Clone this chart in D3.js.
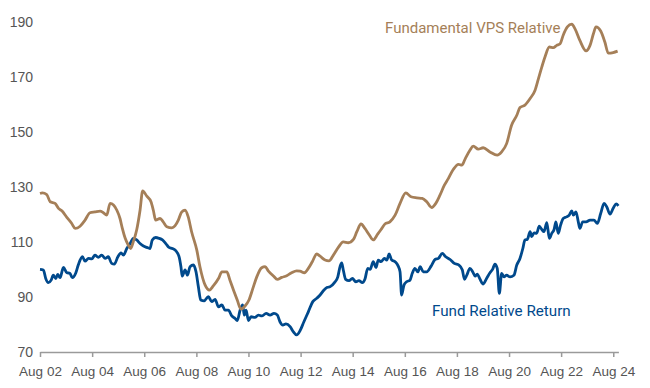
<!DOCTYPE html>
<html>
<head>
<meta charset="utf-8">
<script src="https://cdn.jsdelivr.net/npm/d3@7"></script>
<style>
  body { margin: 0; background: #fff; }
  svg { display: block; font-family: Roboto, "Open Sans", sans-serif; }
  .tick text { fill: #555; }
</style>
</head>
<body>
<svg id="chart" width="650" height="388"></svg>
<script>
// decimal years + values
let vpsYears = [2002.58, 2002.67, 2002.84, 2002.97, 2003.16, 2003.29, 2003.42, 2003.61, 2003.80, 2003.93,
    2004.12, 2004.31, 2004.50, 2004.69, 2004.89, 2005.01, 2005.14, 2005.27, 2005.40, 2005.53,
    2005.65, 2005.74, 2005.85, 2005.97, 2006.06, 2006.16, 2006.29, 2006.42, 2006.52, 2006.68,
    2006.84, 2006.93, 2007.02, 2007.19, 2007.31, 2007.45, 2007.64, 2007.76, 2007.89, 2008.02,
    2008.15, 2008.27, 2008.40, 2008.60, 2008.72, 2008.92, 2009.08, 2009.23, 2009.43, 2009.56,
    2009.75, 2009.87, 2010.03, 2010.15, 2010.29, 2010.45, 2010.60, 2010.75, 2010.90, 2011.09,
    2011.22, 2011.34, 2011.54, 2011.69, 2011.86, 2012.05, 2012.24, 2012.43, 2012.56, 2012.73,
    2012.88, 2013.03, 2013.20, 2013.33, 2013.52, 2013.67, 2013.84, 2014.03, 2014.22, 2014.41,
    2014.61, 2014.74, 2014.90, 2015.05, 2015.22, 2015.37, 2015.54, 2015.70, 2015.82, 2016.01,
    2016.21, 2016.40, 2016.62, 2016.82, 2017.04, 2017.25, 2017.42, 2017.61, 2017.77, 2017.93,
    2018.10, 2018.25, 2018.44, 2018.64, 2018.77, 2018.89, 2019.08, 2019.21, 2019.40, 2019.59,
    2019.85, 2020.13, 2020.30, 2020.49, 2020.68, 2020.88, 2021.00, 2021.19, 2021.39, 2021.58,
    2021.71, 2021.84, 2021.96, 2022.13, 2022.28, 2022.41, 2022.54, 2022.66, 2022.82, 2022.99,
    2023.11, 2023.30, 2023.54, 2023.69, 2023.82, 2023.92, 2024.10, 2024.26, 2024.39, 2024.58,
    2024.75]
let vpsValues = [127.6, 127.8, 127.2, 124.6, 124.0, 122.2, 121.3, 118.9, 116.7, 114.9,
    115.7, 117.9, 120.6, 120.9, 121.2, 120.6, 119.7, 124.0, 123.4, 121.5,
    118.5, 114.9, 111.3, 108.8, 107.6, 110.0, 114.3, 121.5, 128.5, 126.6,
    124.6, 121.5, 117.9, 118.5, 117.3, 115.5, 115.1, 115.8, 117.9, 120.9,
    121.5, 119.1, 113.7, 107.0, 101.0, 94.3, 92.5, 94.0, 96.7, 99.1,
    99.1, 96.1, 91.9, 88.9, 85.6, 86.7, 88.9, 93.1, 97.3, 100.6,
    101.0, 99.5, 97.6, 96.4, 97.1, 97.7, 98.8, 99.5, 99.4, 98.8,
    100.4, 102.8, 105.6, 104.8, 103.4, 103.1, 105.2, 108.0, 110.0, 109.7,
    110.9, 113.7, 116.5, 114.9, 112.5, 110.7, 112.8, 114.9, 116.5, 117.3,
    119.7, 124.0, 127.8, 126.4, 126.0, 125.8, 124.6, 122.5, 124.0, 127.0,
    130.6, 133.0, 136.3, 138.2, 137.9, 140.0, 143.3, 144.8, 143.7, 144.2,
    142.7, 141.5, 142.7, 145.7, 152.4, 156.0, 158.8, 159.7, 162.1, 165.1,
    169.3, 173.6, 177.2, 180.8, 180.6, 181.4, 182.0, 185.1, 188.1, 189.1,
    187.5, 183.2, 179.4, 181.4, 185.6, 188.1, 186.6, 182.6, 178.6, 178.8,
    179.3]

let fundYears = [2002.58, 2002.71, 2002.80, 2002.90, 2003.01, 2003.09, 2003.19, 2003.26, 2003.35, 2003.48,
    2003.61, 2003.73, 2003.82, 2003.95, 2004.05, 2004.21, 2004.31, 2004.44, 2004.57, 2004.69,
    2004.82, 2004.95, 2005.08, 2005.20, 2005.33, 2005.43, 2005.57, 2005.69, 2005.78, 2005.91,
    2006.04, 2006.16, 2006.29, 2006.42, 2006.55, 2006.68, 2006.80, 2006.89, 2007.02, 2007.15,
    2007.28, 2007.41, 2007.53, 2007.66, 2007.79, 2007.92, 2007.99, 2008.04, 2008.15, 2008.24,
    2008.34, 2008.47, 2008.57, 2008.66, 2008.75, 2008.88, 2009.04, 2009.17, 2009.30, 2009.43,
    2009.56, 2009.68, 2009.81, 2009.94, 2010.07, 2010.15, 2010.26, 2010.36, 2010.42, 2010.49,
    2010.58, 2010.68, 2010.83, 2010.96, 2011.09, 2011.26, 2011.41, 2011.56, 2011.69, 2011.79,
    2011.90, 2012.02, 2012.18, 2012.30, 2012.43, 2012.56, 2012.71, 2012.88, 2013.05, 2013.20,
    2013.33, 2013.48, 2013.61, 2013.71, 2013.88, 2014.01, 2014.10, 2014.16, 2014.22, 2014.31,
    2014.44, 2014.57, 2014.70, 2014.82, 2014.95, 2015.05, 2015.16, 2015.25, 2015.37, 2015.48,
    2015.56, 2015.67, 2015.80, 2015.89, 2015.98, 2016.08, 2016.21, 2016.33, 2016.40, 2016.46,
    2016.55, 2016.65, 2016.78, 2016.87, 2016.97, 2017.08, 2017.17, 2017.29, 2017.42, 2017.59,
    2017.74, 2017.87, 2018.02, 2018.15, 2018.32, 2018.48, 2018.66, 2018.79, 2018.87, 2018.96,
    2019.08, 2019.19, 2019.28, 2019.36, 2019.47, 2019.59, 2019.72, 2019.85, 2019.95, 2020.04,
    2020.13, 2020.21, 2020.30, 2020.39, 2020.49, 2020.62, 2020.77, 2020.88, 2021.00, 2021.11,
    2021.19, 2021.28, 2021.39, 2021.45, 2021.54, 2021.64, 2021.74, 2021.84, 2021.92, 2022.03,
    2022.13, 2022.22, 2022.31, 2022.38, 2022.47, 2022.56, 2022.66, 2022.79, 2022.89, 2022.99,
    2023.05, 2023.15, 2023.24, 2023.30, 2023.41, 2023.54, 2023.69, 2023.84, 2023.97, 2024.10,
    2024.23, 2024.33, 2024.46, 2024.58, 2024.69, 2024.78]
let fundValues = [100.0, 99.8, 96.7, 95.2, 96.1, 97.9, 96.7, 98.2, 97.0, 100.7,
    98.8, 98.6, 97.0, 98.6, 101.6, 104.6, 103.0, 104.0, 103.8, 105.2,
    104.4, 105.2, 104.0, 104.6, 102.2, 101.9, 104.6, 106.0, 105.2, 107.6,
    109.4, 111.3, 110.7, 109.4, 108.5, 108.0, 107.6, 110.7, 111.6, 111.3,
    110.7, 109.4, 108.0, 107.6, 106.8, 104.6, 101.0, 97.6, 99.8, 97.9,
    101.0, 101.6, 99.1, 93.7, 88.9, 88.6, 90.1, 88.3, 89.1, 86.4,
    87.1, 85.2, 85.2, 83.1, 82.2, 81.4, 85.2, 87.1, 83.4, 85.2,
    81.4, 82.8, 82.6, 83.4, 83.1, 84.0, 83.4, 84.0, 83.4, 81.0,
    79.8, 80.2, 79.2, 77.4, 76.2, 77.7, 81.0, 84.6, 88.3, 89.5,
    90.7, 92.5, 93.5, 93.7, 95.2, 97.3, 101.2, 102.4, 99.8, 96.4,
    95.9, 96.7, 95.5, 95.9, 95.2, 96.4, 100.4, 100.0, 102.8, 100.7,
    103.4, 102.8, 104.0, 103.4, 105.6, 103.4, 102.8, 101.2, 99.1, 90.7,
    94.3, 95.5, 96.1, 98.6, 100.4, 99.1, 101.0, 99.1, 99.1, 101.2,
    103.6, 104.0, 105.8, 104.6, 103.6, 102.2, 101.6, 99.8, 96.4, 97.9,
    100.4, 99.1, 97.6, 98.3, 96.4, 94.7, 96.7, 98.8, 100.0, 101.9,
    100.4, 91.3, 98.6, 97.3, 97.9, 97.3, 97.9, 101.6, 104.0, 107.6,
    110.7, 110.9, 113.7, 111.9, 113.3, 113.1, 115.7, 114.5, 113.7, 117.0,
    111.3, 113.1, 114.5, 117.3, 113.1, 116.1, 118.5, 119.1, 119.7, 121.3,
    119.7, 120.9, 117.3, 114.9, 117.3, 117.3, 117.9, 117.9, 116.7, 120.3,
    124.0, 122.8, 120.1, 122.2, 123.8, 123.1]

let yTicks = [70, 90, 110, 130, 150, 170, 190]
let xTickYears = [2002, 2004, 2006, 2008, 2010, 2012, 2014, 2016, 2018, 2020, 2022, 2024]

let vpsColor = '#a57f58'
let fundColor = '#00498c'

function toDate(y) {
    let yr = Math.floor(y)
    let start = new Date(yr, 0, 1)
    return new Date(start.getTime() + (y - yr) * 365.25 * 864e5)
}

let vpsData = vpsYears.map(function (y, i) { return {date: toDate(y), value: vpsValues[i]} })
let fundData = fundYears.map(function (y, i) { return {date: toDate(y), value: fundValues[i]} })

let svg = d3.select('#chart')

let x = d3.scaleTime()
    .domain([new Date(2002, 7, 1), toDate(2024.78)])
    .range([40, 618.4])
let y = d3.scaleLinear().domain([70, 190]).range([352, 21.7])

// x axis
let xAxis = svg.append('g')
    .attr('transform', 'translate(0,352)')
    .call(d3.axisBottom(x)
        .tickValues(xTickYears.map(function (d) { return new Date(d, 7, 1) }))
        .tickFormat(d3.timeFormat('%b %y'))
        .tickSize(5)
        .tickSizeOuter(0))
xAxis.select('.domain').attr('stroke', '#9a9a9a').attr('stroke-width', 1.5)
xAxis.selectAll('.tick line').attr('stroke', '#9a9a9a').attr('stroke-width', 1.5)
xAxis.selectAll('.tick text')
    .attr('dy', null)
    .attr('y', 24)
    .style('font-size', '13.5px')

// y axis labels only
let yAxis = svg.append('g')
    .attr('transform', 'translate(33,0)')
    .call(d3.axisLeft(y).tickValues(yTicks).tickSize(0).tickPadding(0))
yAxis.select('.domain').remove()
yAxis.selectAll('.tick text').style('font-size', '14px')

let line = d3.line()
    .x(function (d) { return x(d.date) })
    .y(function (d) { return y(d.value) })
    .curve(d3.curveMonotoneX)

svg.append('path')
    .datum(fundData)
    .attr('fill', 'none')
    .attr('stroke', fundColor)
    .attr('stroke-width', 2.8)
    .attr('stroke-linejoin', 'round')
    .attr('d', line)

svg.append('path')
    .datum(vpsData)
    .attr('fill', 'none')
    .attr('stroke', vpsColor)
    .attr('stroke-width', 2.8)
    .attr('stroke-linejoin', 'round')
    .attr('d', line)

// series labels
svg.append('text')
    .attr('x', 385).attr('y', 33)
    .attr('fill', vpsColor)
    .style('font-size', '15px')
    .text('Fundamental VPS Relative')

svg.append('text')
    .attr('x', 432).attr('y', 316)
    .attr('fill', fundColor)
    .style('font-size', '15.2px')
    .text('Fund Relative Return')
</script>
</body>
</html>
